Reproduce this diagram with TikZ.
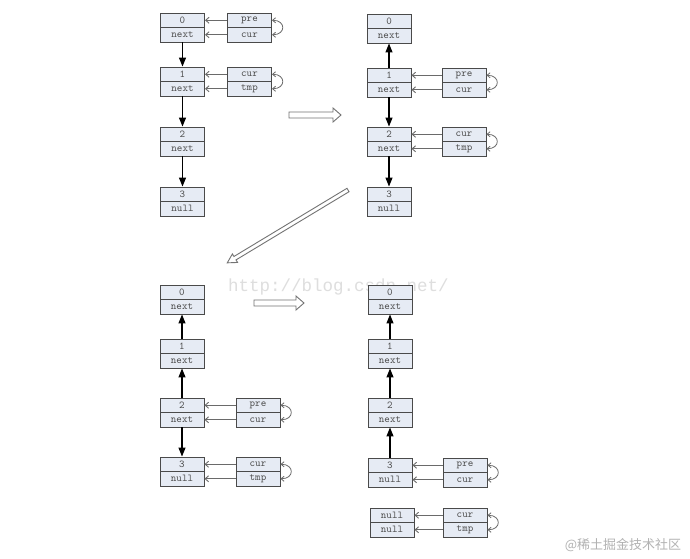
\documentclass[tikz,border=0pt]{standalone}
\usepackage{fontspec}
\newfontfamily\cjkfont{Noto Sans CJK SC}
\newfontfamily\wmfont{Liberation Mono}
\usetikzlibrary{arrows.meta}
\definecolor{cellfill}{HTML}{E6EBF4}
\definecolor{celldraw}{HTML}{4A4A4A}
\definecolor{ptrline}{HTML}{6A6A6A}
\tikzset{
  lcell/.style={draw=celldraw, fill=cellfill, line width=0.9pt, minimum width=44pt,
    minimum height=14.5pt, inner sep=0pt, font=\ttfamily\fontsize{10.5}{11}\selectfont, text=black!70},
  llink/.style={line width=1.1pt, -{Triangle[length=9pt,width=7pt]}},
  lptr/.style={draw=ptrline, line width=0.9pt, -{Straight Barb[length=3.5pt,width=6pt]}},
  selfloop/.style={draw=ptrline, line width=0.8pt,
    {Straight Barb[length=3pt,width=5pt]}-{Straight Barb[length=3pt,width=5pt]}},
  lhollow/.style={draw=black!55, fill=white, line width=0.9pt, line join=miter},
}
\newcommand\listnode[5]{%
  \node[lcell] (#1-t) at (#2,#3+7.25) {#4};
  \node[lcell] (#1-b) at (#2,#3+21.75) {#5};}
\newcommand\pointto[2]{%
  \draw[lptr] (#2-t.west) -- (#1-t.east);
  \draw[lptr] (#2-b.west) -- (#1-b.east);
  \draw[selfloop] (#2-t.east) to[out=0,in=0,looseness=2.5] (#2-b.east);}
\begin{document}
\begin{tikzpicture}[x=1pt,y=-1pt]
\fill[white] (0,0) rectangle (690,558);
\useasboundingbox (0,0) rectangle (690,558);
% watermarks
\node[font=\wmfont\fontsize{17.5}{18}\selectfont, text=black!13, anchor=base west, inner sep=0pt] (wm) at (228,291) {http://blog.csdn.net/};
\node[font=\cjkfont\fontsize{13}{14}\selectfont, text=black!30, inner sep=0pt] (wm2) at (623,545) {@稀土掘金技术社区};
% Panel A
\listnode{a0}{182.5}{13}{0}{next}
\listnode{a1}{182.5}{67}{1}{next}
\listnode{a2}{182.5}{127}{2}{next}
\listnode{a3}{182.5}{187}{3}{null}
\listnode{ap0}{249.5}{13}{pre}{cur}
\listnode{ap1}{249.5}{67}{cur}{tmp}
\draw[llink] (a0-b.south) -- (a1-t.north);
\draw[llink] (a1-b.south) -- (a2-t.north);
\draw[llink] (a2-b.south) -- (a3-t.north);
\pointto{a0}{ap0}
\pointto{a1}{ap1}
% Panel B
\listnode{b0}{389}{14}{0}{next}
\listnode{b1}{389}{68}{1}{next}
\listnode{b2}{389}{127}{2}{next}
\listnode{b3}{389}{187}{3}{null}
\listnode{bp1}{464}{68}{pre}{cur}
\listnode{bp2}{464}{127}{cur}{tmp}
\draw[llink] (b1-t.north) -- (b0-b.south);
\draw[llink] (b1-b.south) -- (b2-t.north);
\draw[llink] (b2-b.south) -- (b3-t.north);
\pointto{b1}{bp1}
\pointto{b2}{bp2}
% Panel C
\listnode{c0}{182}{285}{0}{next}
\listnode{c1}{182}{339}{1}{next}
\listnode{c2}{182}{398}{2}{next}
\listnode{c3}{182}{457}{3}{null}
\listnode{cp2}{258}{398}{pre}{cur}
\listnode{cp3}{258}{457}{cur}{tmp}
\draw[llink] (c1-t.north) -- (c0-b.south);
\draw[llink] (c2-t.north) -- (c1-b.south);
\draw[llink] (c2-b.south) -- (c3-t.north);
\pointto{c2}{cp2}
\pointto{c3}{cp3}
% Panel D
\listnode{d0}{390}{285}{0}{next}
\listnode{d1}{390}{339}{1}{next}
\listnode{d2}{390}{398}{2}{next}
\listnode{d3}{390}{458}{3}{null}
\listnode{dn}{392}{508}{null}{null}
\listnode{dp3}{465}{458}{pre}{cur}
\listnode{dpn}{465}{508}{cur}{tmp}
\draw[llink] (d1-t.north) -- (d0-b.south);
\draw[llink] (d2-t.north) -- (d1-b.south);
\draw[llink] (d3-t.north) -- (d2-b.south);
\pointto{d3}{dp3}
\pointto{dn}{dpn}
% hollow step arrows
\draw[lhollow] (289,112) -- (333,112) -- (333,108) -- (341,115) -- (333,122) -- (333,118) -- (289,118) -- cycle;
\draw[lhollow] (254,300) -- (296,300) -- (296,296) -- (304,303) -- (296,310) -- (296,306) -- (254,306) -- cycle;
\begin{scope}[shift={(348,190)}, rotate=211.1]
\draw[lhollow] (0,-2) -- (132,-2) -- (132,-5) -- (141,0) -- (132,5) -- (132,2) -- (0,2) -- cycle;
\end{scope}
\end{tikzpicture}
\end{document}
